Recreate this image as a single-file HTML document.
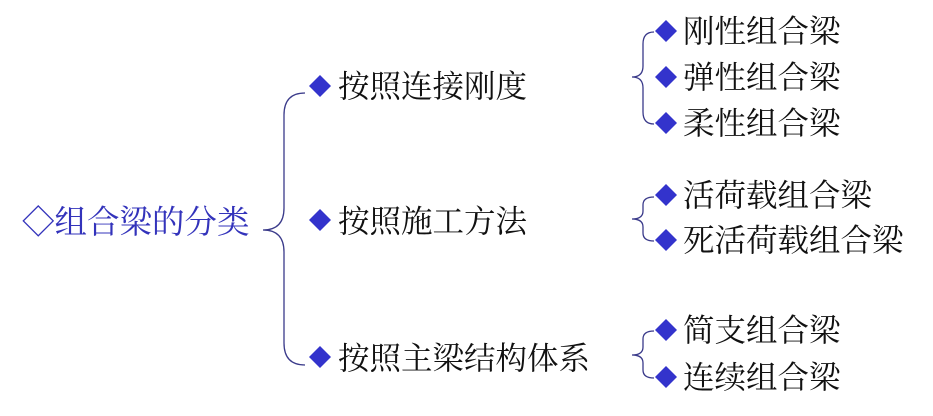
<!DOCTYPE html>
<html><head><meta charset="utf-8"><style>
html,body{margin:0;padding:0;background:#fff;}
svg{display:block}
text{font-family:"Liberation Serif","Noto Serif CJK SC",serif;font-size:31.5px;fill:#111;}
</style></head><body>
<svg width="933" height="416" viewBox="0 0 933 416" xmlns="http://www.w3.org/2000/svg">
<g fill="none" stroke="#3a3a8a" stroke-width="1.3">
<path d="M305,93 Q284,93 284,115 L284,208 Q284,230 263,230 Q284,230 284,252 L284,343 Q284,365 305,365"/>
<path d="M654,32 Q643,32 643,44 L643,66 Q643,77 632,77 Q643,77 643,88 L643,112 Q643,124 654,124"/>
<path d="M654,197 Q643,197 643,205 L643,211 Q643,219 632,219 Q643,219 643,227 L643,233 Q643,241 654,241"/>
<path d="M654,331 Q643,331 643,339 L643,347 Q643,355 632,355 Q643,355 643,363 L643,370 Q643,378 654,378"/>
</g>
<text x="22" y="233" style="font-size:32.5px;fill:#3333bb">◇组合梁的分类</text>
<g fill="#3333cc">
<path d="M320,75 L331,86 L320,97 L309,86Z"/>
<path d="M320,209 L331,220 L320,231 L309,220Z"/>
<path d="M320,346 L331,357 L320,368 L309,357Z"/>
<path d="M666,20 L677,31 L666,42 L655,31Z"/>
<path d="M666,66 L677,77 L666,88 L655,77Z"/>
<path d="M666,112 L677,123 L666,134 L655,123Z"/>
<path d="M666,184 L677,195 L666,206 L655,195Z"/>
<path d="M666,229 L677,240 L666,251 L655,240Z"/>
<path d="M666,319 L677,330 L666,341 L655,330Z"/>
<path d="M666,366 L677,377 L666,388 L655,377Z"/>
</g>
<text x="338" y="97">按照连接刚度</text>
<text x="338" y="232">按照施工方法</text>
<text x="338" y="369">按照主梁结构体系</text>
<text x="683" y="42">刚性组合梁</text>
<text x="683" y="88">弹性组合梁</text>
<text x="683" y="134">柔性组合梁</text>
<text x="683" y="206">活荷载组合梁</text>
<text x="683" y="251">死活荷载组合梁</text>
<text x="683" y="341">简支组合梁</text>
<text x="683" y="388">连续组合梁</text>
</svg>
</body></html>
